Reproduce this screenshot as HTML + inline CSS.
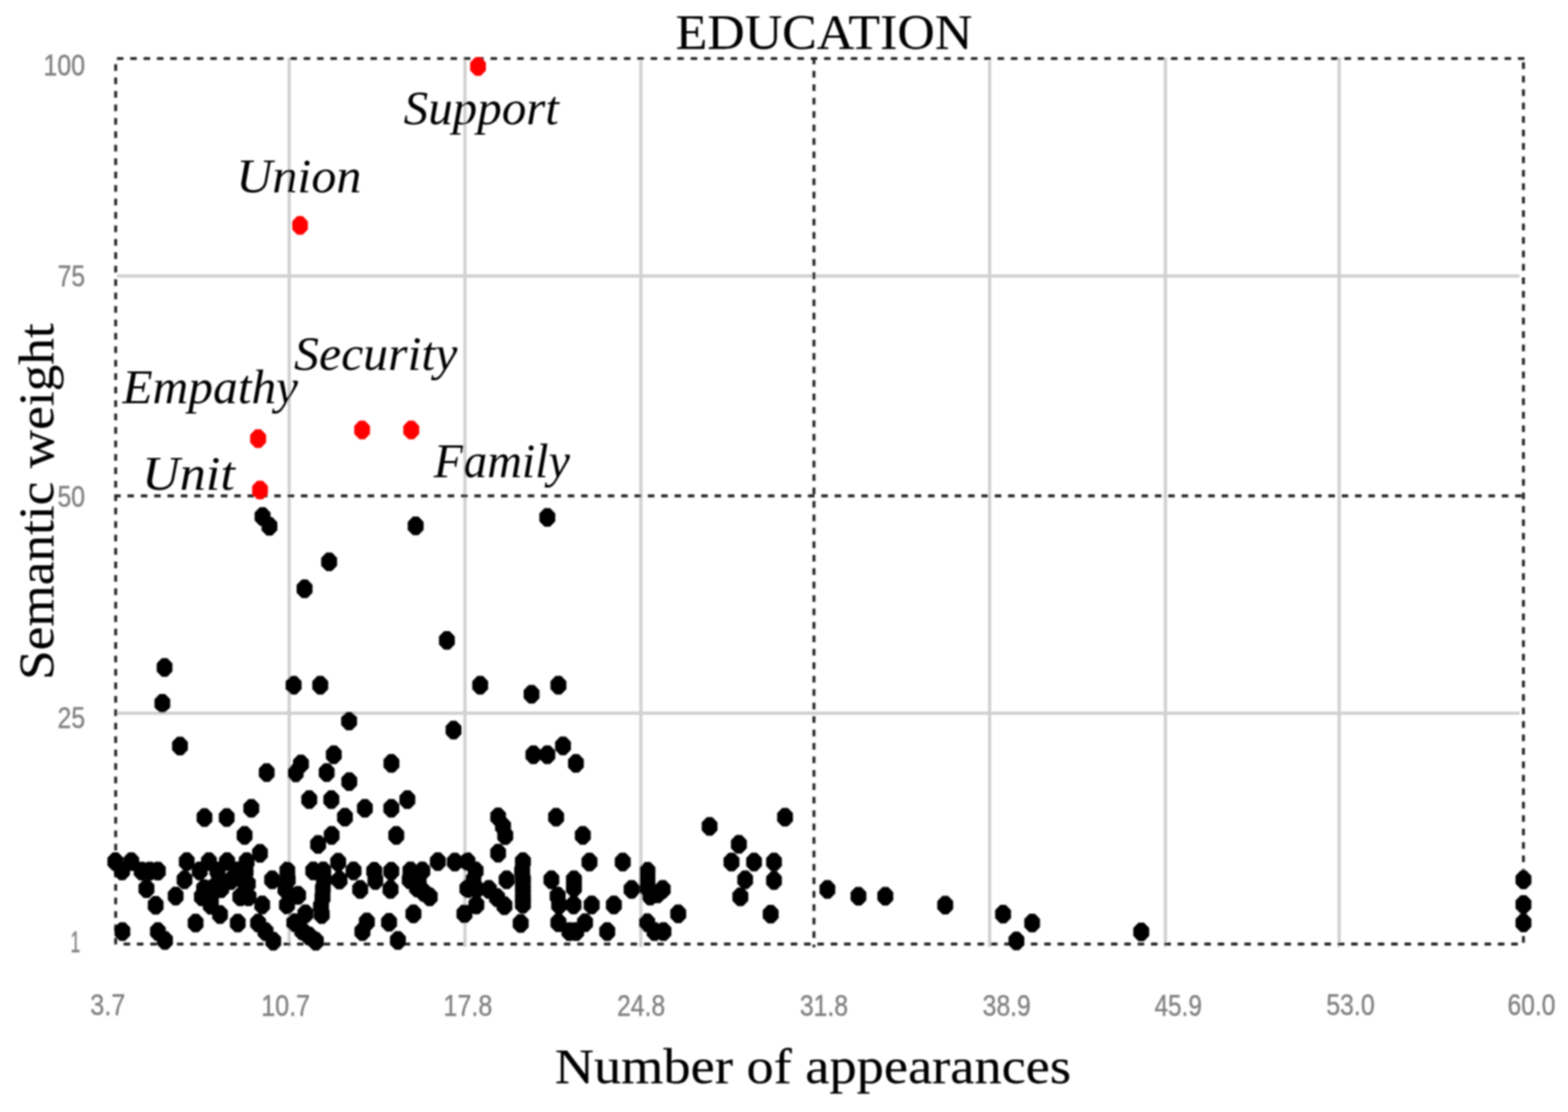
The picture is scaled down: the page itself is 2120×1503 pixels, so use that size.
<!DOCTYPE html>
<html lang="en"><head><meta charset="utf-8"><title>EDUCATION</title>
<style>
html,body{margin:0;padding:0;background:#fff;}
body{width:2120px;height:1503px;position:relative;}
svg{position:absolute;left:0;top:0;display:block;}
.serif{font-family:"Liberation Serif","DejaVu Serif",serif;fill:#000;stroke:#000;stroke-width:0.25;}
.it{font-family:"Liberation Serif","DejaVu Serif",serif;font-style:italic;fill:#000;}
.tick{font-family:"Liberation Sans","DejaVu Sans",sans-serif;fill:#808080;stroke:#808080;stroke-width:0.5;}
.g{stroke:#d0d0d0;stroke-width:4.4;fill:none;}
.d{stroke:#242424;stroke-width:3.9;fill:none;}
.k{fill:#000;stroke:#000;stroke-width:1;stroke-linejoin:round;}
.r{fill:#fe0000;stroke:#fe0000;stroke-width:1;stroke-linejoin:round;}
</style></head><body>
<svg width="2120" height="1503" viewBox="0 0 2120 1503">
<defs><filter id="b" filterUnits="userSpaceOnUse" x="0" y="0" width="2120" height="1503"><feGaussianBlur stdDeviation="1.1"/></filter><filter id="c" filterUnits="userSpaceOnUse" x="0" y="0" width="2120" height="1503"><feGaussianBlur stdDeviation="0.6"/></filter></defs>
<rect width="2120" height="1503" fill="#fff"/>
<g filter="url(#b)">
<g class="g">
<line x1="391.0" y1="78.1" x2="391.0" y2="1280.0"/>
<line x1="628.6" y1="78.1" x2="628.6" y2="1280.0"/>
<line x1="866.5" y1="78.1" x2="866.5" y2="1280.0"/>
<line x1="1338.0" y1="78.1" x2="1338.0" y2="1280.0"/>
<line x1="1575.6" y1="78.1" x2="1575.6" y2="1280.0"/>
<line x1="1810.6" y1="78.1" x2="1810.6" y2="1280.0"/>
<line x1="158.2" y1="373.0" x2="2054.5" y2="373.0"/>
<line x1="158.2" y1="964.0" x2="2054.5" y2="964.0"/>
</g>
<g class="d" filter="url(#c)">
<line x1="157.5" y1="79.1" x2="2061.0" y2="79.1" stroke-dasharray="8.80 9.24" stroke-dashoffset="17.44"/>
<line x1="160.0" y1="1276.0" x2="2055.5" y2="1276.0" stroke-dasharray="8.80 9.24" stroke-dashoffset="10.94"/>
<line x1="155.2" y1="670.3" x2="2059.5" y2="670.3" stroke-dasharray="8.80 9.24" stroke-dashoffset="0.84"/>
<line x1="156.4" y1="84.0" x2="156.4" y2="1276.5" stroke-dasharray="9.00 9.17" stroke-dashoffset="15.47"/>
<line x1="2059.7" y1="79.1" x2="2059.7" y2="1274.5" stroke-dasharray="9.00 9.17" stroke-dashoffset="12.97"/>
<line x1="1100.5" y1="77.6" x2="1100.5" y2="1280.5" stroke-dasharray="9.00 9.17" stroke-dashoffset="18.14"/>
</g>
<path class="k" d="M351.3 686.0h7.4l6.5 6.7v10.8l-6.5 6.7h-7.4l-6.5 -6.7v-10.8zM360.6 699.2h7.4l6.5 6.7v10.8l-6.5 6.7h-7.4l-6.5 -6.7v-10.8zM558.3 698.7h7.4l6.5 6.7v10.8l-6.5 6.7h-7.4l-6.5 -6.7v-10.8zM441.3 747.2h7.4l6.5 6.7v10.8l-6.5 6.7h-7.4l-6.5 -6.7v-10.8zM408.1 783.7h7.4l6.5 6.7v10.8l-6.5 6.7h-7.4l-6.5 -6.7v-10.8zM600.5 853.5h7.4l6.5 6.7v10.8l-6.5 6.7h-7.4l-6.5 -6.7v-10.8zM218.8 890.0h7.4l6.5 6.7v10.8l-6.5 6.7h-7.4l-6.5 -6.7v-10.8zM393.3 914.0h7.4l6.5 6.7v10.8l-6.5 6.7h-7.4l-6.5 -6.7v-10.8zM429.3 914.0h7.4l6.5 6.7v10.8l-6.5 6.7h-7.4l-6.5 -6.7v-10.8zM645.5 914.0h7.4l6.5 6.7v10.8l-6.5 6.7h-7.4l-6.5 -6.7v-10.8zM215.8 938.5h7.4l6.5 6.7v10.8l-6.5 6.7h-7.4l-6.5 -6.7v-10.8zM468.3 962.5h7.4l6.5 6.7v10.8l-6.5 6.7h-7.4l-6.5 -6.7v-10.8zM609.5 974.7h7.4l6.5 6.7v10.8l-6.5 6.7h-7.4l-6.5 -6.7v-10.8zM239.6 996.2h7.4l6.5 6.7v10.8l-6.5 6.7h-7.4l-6.5 -6.7v-10.8zM447.6 1008.0h7.4l6.5 6.7v10.8l-6.5 6.7h-7.4l-6.5 -6.7v-10.8zM525.5 1019.7h7.4l6.5 6.7v10.8l-6.5 6.7h-7.4l-6.5 -6.7v-10.8zM736.3 687.2h7.4l6.5 6.7v10.8l-6.5 6.7h-7.4l-6.5 -6.7v-10.8zM715.0 926.2h7.4l6.5 6.7v10.8l-6.5 6.7h-7.4l-6.5 -6.7v-10.8zM751.3 914.0h7.4l6.5 6.7v10.8l-6.5 6.7h-7.4l-6.5 -6.7v-10.8zM757.5 996.0h7.4l6.5 6.7v10.8l-6.5 6.7h-7.4l-6.5 -6.7v-10.8zM717.5 1008.0h7.4l6.5 6.7v10.8l-6.5 6.7h-7.4l-6.5 -6.7v-10.8zM736.3 1008.0h7.4l6.5 6.7v10.8l-6.5 6.7h-7.4l-6.5 -6.7v-10.8zM775.0 1019.7h7.4l6.5 6.7v10.8l-6.5 6.7h-7.4l-6.5 -6.7v-10.8zM356.9 1032.1h7.4l6.5 6.7v10.8l-6.5 6.7h-7.4l-6.5 -6.7v-10.8zM396.1 1032.6h7.4l6.5 6.7v10.8l-6.5 6.7h-7.4l-6.5 -6.7v-10.8zM403.2 1020.4h7.4l6.5 6.7v10.8l-6.5 6.7h-7.4l-6.5 -6.7v-10.8zM438.0 1032.1h7.4l6.5 6.7v10.8l-6.5 6.7h-7.4l-6.5 -6.7v-10.8zM468.5 1044.3h7.4l6.5 6.7v10.8l-6.5 6.7h-7.4l-6.5 -6.7v-10.8zM414.4 1068.7h7.4l6.5 6.7v10.8l-6.5 6.7h-7.4l-6.5 -6.7v-10.8zM444.3 1068.7h7.4l6.5 6.7v10.8l-6.5 6.7h-7.4l-6.5 -6.7v-10.8zM336.1 1080.4h7.4l6.5 6.7v10.8l-6.5 6.7h-7.4l-6.5 -6.7v-10.8zM272.8 1092.9h7.4l6.5 6.7v10.8l-6.5 6.7h-7.4l-6.5 -6.7v-10.8zM302.8 1092.9h7.4l6.5 6.7v10.8l-6.5 6.7h-7.4l-6.5 -6.7v-10.8zM462.7 1092.4h7.4l6.5 6.7v10.8l-6.5 6.7h-7.4l-6.5 -6.7v-10.8zM489.6 1080.4h7.4l6.5 6.7v10.8l-6.5 6.7h-7.4l-6.5 -6.7v-10.8zM327.0 1117.0h7.4l6.5 6.7v10.8l-6.5 6.7h-7.4l-6.5 -6.7v-10.8zM444.7 1117.0h7.4l6.5 6.7v10.8l-6.5 6.7h-7.4l-6.5 -6.7v-10.8zM426.4 1129.2h7.4l6.5 6.7v10.8l-6.5 6.7h-7.4l-6.5 -6.7v-10.8zM347.8 1141.2h7.4l6.5 6.7v10.8l-6.5 6.7h-7.4l-6.5 -6.7v-10.8zM453.5 1153.2h7.4l6.5 6.7v10.8l-6.5 6.7h-7.4l-6.5 -6.7v-10.8zM152.3 1152.5h7.4l6.5 6.7v10.8l-6.5 6.7h-7.4l-6.5 -6.7v-10.8zM173.8 1152.5h7.4l6.5 6.7v10.8l-6.5 6.7h-7.4l-6.5 -6.7v-10.8zM248.8 1152.5h7.4l6.5 6.7v10.8l-6.5 6.7h-7.4l-6.5 -6.7v-10.8zM278.8 1152.5h7.4l6.5 6.7v10.8l-6.5 6.7h-7.4l-6.5 -6.7v-10.8zM303.3 1152.5h7.4l6.5 6.7v10.8l-6.5 6.7h-7.4l-6.5 -6.7v-10.8zM329.8 1152.5h7.4l6.5 6.7v10.8l-6.5 6.7h-7.4l-6.5 -6.7v-10.8zM161.3 1165.0h7.4l6.5 6.7v10.8l-6.5 6.7h-7.4l-6.5 -6.7v-10.8zM187.8 1165.2h7.4l6.5 6.7v10.8l-6.5 6.7h-7.4l-6.5 -6.7v-10.8zM198.8 1165.2h7.4l6.5 6.7v10.8l-6.5 6.7h-7.4l-6.5 -6.7v-10.8zM209.8 1165.2h7.4l6.5 6.7v10.8l-6.5 6.7h-7.4l-6.5 -6.7v-10.8zM266.3 1165.0h7.4l6.5 6.7v10.8l-6.5 6.7h-7.4l-6.5 -6.7v-10.8zM290.3 1165.0h7.4l6.5 6.7v10.8l-6.5 6.7h-7.4l-6.5 -6.7v-10.8zM316.3 1165.0h7.4l6.5 6.7v10.8l-6.5 6.7h-7.4l-6.5 -6.7v-10.8zM245.8 1177.0h7.4l6.5 6.7v10.8l-6.5 6.7h-7.4l-6.5 -6.7v-10.8zM292.3 1177.0h7.4l6.5 6.7v10.8l-6.5 6.7h-7.4l-6.5 -6.7v-10.8zM324.3 1177.0h7.4l6.5 6.7v10.8l-6.5 6.7h-7.4l-6.5 -6.7v-10.8zM194.3 1189.0h7.4l6.5 6.7v10.8l-6.5 6.7h-7.4l-6.5 -6.7v-10.8zM272.3 1189.0h7.4l6.5 6.7v10.8l-6.5 6.7h-7.4l-6.5 -6.7v-10.8zM233.8 1199.0h7.4l6.5 6.7v10.8l-6.5 6.7h-7.4l-6.5 -6.7v-10.8zM269.3 1200.0h7.4l6.5 6.7v10.8l-6.5 6.7h-7.4l-6.5 -6.7v-10.8zM321.3 1200.0h7.4l6.5 6.7v10.8l-6.5 6.7h-7.4l-6.5 -6.7v-10.8zM332.3 1200.0h7.4l6.5 6.7v10.8l-6.5 6.7h-7.4l-6.5 -6.7v-10.8zM206.8 1211.5h7.4l6.5 6.7v10.8l-6.5 6.7h-7.4l-6.5 -6.7v-10.8zM281.3 1211.5h7.4l6.5 6.7v10.8l-6.5 6.7h-7.4l-6.5 -6.7v-10.8zM293.8 1224.0h7.4l6.5 6.7v10.8l-6.5 6.7h-7.4l-6.5 -6.7v-10.8zM260.8 1235.5h7.4l6.5 6.7v10.8l-6.5 6.7h-7.4l-6.5 -6.7v-10.8zM317.8 1235.5h7.4l6.5 6.7v10.8l-6.5 6.7h-7.4l-6.5 -6.7v-10.8zM345.3 1235.5h7.4l6.5 6.7v10.8l-6.5 6.7h-7.4l-6.5 -6.7v-10.8zM161.8 1247.0h7.4l6.5 6.7v10.8l-6.5 6.7h-7.4l-6.5 -6.7v-10.8zM209.8 1247.0h7.4l6.5 6.7v10.8l-6.5 6.7h-7.4l-6.5 -6.7v-10.8zM219.3 1259.0h7.4l6.5 6.7v10.8l-6.5 6.7h-7.4l-6.5 -6.7v-10.8zM283.3 1189.0h7.4l6.5 6.7v10.8l-6.5 6.7h-7.4l-6.5 -6.7v-10.8zM295.3 1189.0h7.4l6.5 6.7v10.8l-6.5 6.7h-7.4l-6.5 -6.7v-10.8zM308.3 1178.0h7.4l6.5 6.7v10.8l-6.5 6.7h-7.4l-6.5 -6.7v-10.8zM281.3 1201.0h7.4l6.5 6.7v10.8l-6.5 6.7h-7.4l-6.5 -6.7v-10.8zM384.8 1165.0h7.4l6.5 6.7v10.8l-6.5 6.7h-7.4l-6.5 -6.7v-10.8zM419.8 1165.0h7.4l6.5 6.7v10.8l-6.5 6.7h-7.4l-6.5 -6.7v-10.8zM433.3 1165.0h7.4l6.5 6.7v10.8l-6.5 6.7h-7.4l-6.5 -6.7v-10.8zM474.3 1165.0h7.4l6.5 6.7v10.8l-6.5 6.7h-7.4l-6.5 -6.7v-10.8zM502.3 1165.5h7.4l6.5 6.7v10.8l-6.5 6.7h-7.4l-6.5 -6.7v-10.8zM525.3 1165.5h7.4l6.5 6.7v10.8l-6.5 6.7h-7.4l-6.5 -6.7v-10.8zM364.3 1177.0h7.4l6.5 6.7v10.8l-6.5 6.7h-7.4l-6.5 -6.7v-10.8zM385.3 1177.0h7.4l6.5 6.7v10.8l-6.5 6.7h-7.4l-6.5 -6.7v-10.8zM434.3 1177.0h7.4l6.5 6.7v10.8l-6.5 6.7h-7.4l-6.5 -6.7v-10.8zM455.3 1177.5h7.4l6.5 6.7v10.8l-6.5 6.7h-7.4l-6.5 -6.7v-10.8zM503.8 1178.0h7.4l6.5 6.7v10.8l-6.5 6.7h-7.4l-6.5 -6.7v-10.8zM382.3 1190.0h7.4l6.5 6.7v10.8l-6.5 6.7h-7.4l-6.5 -6.7v-10.8zM432.8 1189.0h7.4l6.5 6.7v10.8l-6.5 6.7h-7.4l-6.5 -6.7v-10.8zM483.3 1190.0h7.4l6.5 6.7v10.8l-6.5 6.7h-7.4l-6.5 -6.7v-10.8zM524.3 1190.0h7.4l6.5 6.7v10.8l-6.5 6.7h-7.4l-6.5 -6.7v-10.8zM399.3 1198.0h7.4l6.5 6.7v10.8l-6.5 6.7h-7.4l-6.5 -6.7v-10.8zM432.3 1201.0h7.4l6.5 6.7v10.8l-6.5 6.7h-7.4l-6.5 -6.7v-10.8zM350.8 1211.0h7.4l6.5 6.7v10.8l-6.5 6.7h-7.4l-6.5 -6.7v-10.8zM384.3 1211.0h7.4l6.5 6.7v10.8l-6.5 6.7h-7.4l-6.5 -6.7v-10.8zM430.3 1213.0h7.4l6.5 6.7v10.8l-6.5 6.7h-7.4l-6.5 -6.7v-10.8zM409.3 1223.0h7.4l6.5 6.7v10.8l-6.5 6.7h-7.4l-6.5 -6.7v-10.8zM431.3 1224.0h7.4l6.5 6.7v10.8l-6.5 6.7h-7.4l-6.5 -6.7v-10.8zM394.3 1235.0h7.4l6.5 6.7v10.8l-6.5 6.7h-7.4l-6.5 -6.7v-10.8zM492.3 1234.0h7.4l6.5 6.7v10.8l-6.5 6.7h-7.4l-6.5 -6.7v-10.8zM522.3 1234.5h7.4l6.5 6.7v10.8l-6.5 6.7h-7.4l-6.5 -6.7v-10.8zM355.3 1247.0h7.4l6.5 6.7v10.8l-6.5 6.7h-7.4l-6.5 -6.7v-10.8zM404.8 1246.0h7.4l6.5 6.7v10.8l-6.5 6.7h-7.4l-6.5 -6.7v-10.8zM486.3 1247.0h7.4l6.5 6.7v10.8l-6.5 6.7h-7.4l-6.5 -6.7v-10.8zM414.3 1253.0h7.4l6.5 6.7v10.8l-6.5 6.7h-7.4l-6.5 -6.7v-10.8zM365.8 1260.0h7.4l6.5 6.7v10.8l-6.5 6.7h-7.4l-6.5 -6.7v-10.8zM423.3 1260.0h7.4l6.5 6.7v10.8l-6.5 6.7h-7.4l-6.5 -6.7v-10.8zM534.3 1259.0h7.4l6.5 6.7v10.8l-6.5 6.7h-7.4l-6.5 -6.7v-10.8zM669.8 1141.0h7.4l6.5 6.7v10.8l-6.5 6.7h-7.4l-6.5 -6.7v-10.8zM588.3 1152.5h7.4l6.5 6.7v10.8l-6.5 6.7h-7.4l-6.5 -6.7v-10.8zM611.3 1153.0h7.4l6.5 6.7v10.8l-6.5 6.7h-7.4l-6.5 -6.7v-10.8zM628.3 1152.5h7.4l6.5 6.7v10.8l-6.5 6.7h-7.4l-6.5 -6.7v-10.8zM703.3 1152.5h7.4l6.5 6.7v10.8l-6.5 6.7h-7.4l-6.5 -6.7v-10.8zM551.3 1165.0h7.4l6.5 6.7v10.8l-6.5 6.7h-7.4l-6.5 -6.7v-10.8zM567.3 1165.0h7.4l6.5 6.7v10.8l-6.5 6.7h-7.4l-6.5 -6.7v-10.8zM639.3 1165.0h7.4l6.5 6.7v10.8l-6.5 6.7h-7.4l-6.5 -6.7v-10.8zM702.3 1165.0h7.4l6.5 6.7v10.8l-6.5 6.7h-7.4l-6.5 -6.7v-10.8zM550.3 1177.0h7.4l6.5 6.7v10.8l-6.5 6.7h-7.4l-6.5 -6.7v-10.8zM636.3 1177.0h7.4l6.5 6.7v10.8l-6.5 6.7h-7.4l-6.5 -6.7v-10.8zM681.3 1177.0h7.4l6.5 6.7v10.8l-6.5 6.7h-7.4l-6.5 -6.7v-10.8zM703.3 1177.0h7.4l6.5 6.7v10.8l-6.5 6.7h-7.4l-6.5 -6.7v-10.8zM560.3 1188.0h7.4l6.5 6.7v10.8l-6.5 6.7h-7.4l-6.5 -6.7v-10.8zM628.3 1189.0h7.4l6.5 6.7v10.8l-6.5 6.7h-7.4l-6.5 -6.7v-10.8zM657.3 1190.0h7.4l6.5 6.7v10.8l-6.5 6.7h-7.4l-6.5 -6.7v-10.8zM703.3 1189.0h7.4l6.5 6.7v10.8l-6.5 6.7h-7.4l-6.5 -6.7v-10.8zM577.3 1200.0h7.4l6.5 6.7v10.8l-6.5 6.7h-7.4l-6.5 -6.7v-10.8zM668.3 1201.0h7.4l6.5 6.7v10.8l-6.5 6.7h-7.4l-6.5 -6.7v-10.8zM703.3 1201.0h7.4l6.5 6.7v10.8l-6.5 6.7h-7.4l-6.5 -6.7v-10.8zM640.3 1211.0h7.4l6.5 6.7v10.8l-6.5 6.7h-7.4l-6.5 -6.7v-10.8zM678.3 1212.0h7.4l6.5 6.7v10.8l-6.5 6.7h-7.4l-6.5 -6.7v-10.8zM703.3 1210.0h7.4l6.5 6.7v10.8l-6.5 6.7h-7.4l-6.5 -6.7v-10.8zM555.3 1223.0h7.4l6.5 6.7v10.8l-6.5 6.7h-7.4l-6.5 -6.7v-10.8zM624.3 1223.0h7.4l6.5 6.7v10.8l-6.5 6.7h-7.4l-6.5 -6.7v-10.8zM700.3 1236.0h7.4l6.5 6.7v10.8l-6.5 6.7h-7.4l-6.5 -6.7v-10.8zM793.3 1153.0h7.4l6.5 6.7v10.8l-6.5 6.7h-7.4l-6.5 -6.7v-10.8zM838.3 1153.0h7.4l6.5 6.7v10.8l-6.5 6.7h-7.4l-6.5 -6.7v-10.8zM871.8 1165.5h7.4l6.5 6.7v10.8l-6.5 6.7h-7.4l-6.5 -6.7v-10.8zM741.8 1177.0h7.4l6.5 6.7v10.8l-6.5 6.7h-7.4l-6.5 -6.7v-10.8zM772.3 1177.0h7.4l6.5 6.7v10.8l-6.5 6.7h-7.4l-6.5 -6.7v-10.8zM871.8 1177.0h7.4l6.5 6.7v10.8l-6.5 6.7h-7.4l-6.5 -6.7v-10.8zM772.3 1188.0h7.4l6.5 6.7v10.8l-6.5 6.7h-7.4l-6.5 -6.7v-10.8zM850.3 1190.0h7.4l6.5 6.7v10.8l-6.5 6.7h-7.4l-6.5 -6.7v-10.8zM871.8 1189.0h7.4l6.5 6.7v10.8l-6.5 6.7h-7.4l-6.5 -6.7v-10.8zM892.3 1190.0h7.4l6.5 6.7v10.8l-6.5 6.7h-7.4l-6.5 -6.7v-10.8zM750.3 1199.0h7.4l6.5 6.7v10.8l-6.5 6.7h-7.4l-6.5 -6.7v-10.8zM875.3 1199.0h7.4l6.5 6.7v10.8l-6.5 6.7h-7.4l-6.5 -6.7v-10.8zM885.3 1196.0h7.4l6.5 6.7v10.8l-6.5 6.7h-7.4l-6.5 -6.7v-10.8zM752.3 1211.0h7.4l6.5 6.7v10.8l-6.5 6.7h-7.4l-6.5 -6.7v-10.8zM771.8 1211.0h7.4l6.5 6.7v10.8l-6.5 6.7h-7.4l-6.5 -6.7v-10.8zM796.3 1211.0h7.4l6.5 6.7v10.8l-6.5 6.7h-7.4l-6.5 -6.7v-10.8zM826.3 1211.0h7.4l6.5 6.7v10.8l-6.5 6.7h-7.4l-6.5 -6.7v-10.8zM751.3 1235.0h7.4l6.5 6.7v10.8l-6.5 6.7h-7.4l-6.5 -6.7v-10.8zM787.3 1235.0h7.4l6.5 6.7v10.8l-6.5 6.7h-7.4l-6.5 -6.7v-10.8zM871.3 1235.0h7.4l6.5 6.7v10.8l-6.5 6.7h-7.4l-6.5 -6.7v-10.8zM766.3 1247.0h7.4l6.5 6.7v10.8l-6.5 6.7h-7.4l-6.5 -6.7v-10.8zM775.3 1247.0h7.4l6.5 6.7v10.8l-6.5 6.7h-7.4l-6.5 -6.7v-10.8zM817.3 1247.0h7.4l6.5 6.7v10.8l-6.5 6.7h-7.4l-6.5 -6.7v-10.8zM881.3 1247.0h7.4l6.5 6.7v10.8l-6.5 6.7h-7.4l-6.5 -6.7v-10.8zM893.3 1247.0h7.4l6.5 6.7v10.8l-6.5 6.7h-7.4l-6.5 -6.7v-10.8zM995.3 1129.0h7.4l6.5 6.7v10.8l-6.5 6.7h-7.4l-6.5 -6.7v-10.8zM985.3 1153.0h7.4l6.5 6.7v10.8l-6.5 6.7h-7.4l-6.5 -6.7v-10.8zM1015.8 1153.0h7.4l6.5 6.7v10.8l-6.5 6.7h-7.4l-6.5 -6.7v-10.8zM1042.8 1153.0h7.4l6.5 6.7v10.8l-6.5 6.7h-7.4l-6.5 -6.7v-10.8zM1003.8 1177.0h7.4l6.5 6.7v10.8l-6.5 6.7h-7.4l-6.5 -6.7v-10.8zM1042.8 1178.0h7.4l6.5 6.7v10.8l-6.5 6.7h-7.4l-6.5 -6.7v-10.8zM997.3 1200.0h7.4l6.5 6.7v10.8l-6.5 6.7h-7.4l-6.5 -6.7v-10.8zM913.3 1223.0h7.4l6.5 6.7v10.8l-6.5 6.7h-7.4l-6.5 -6.7v-10.8zM1038.3 1223.5h7.4l6.5 6.7v10.8l-6.5 6.7h-7.4l-6.5 -6.7v-10.8zM547.1 1068.7h7.4l6.5 6.7v10.8l-6.5 6.7h-7.4l-6.5 -6.7v-10.8zM525.4 1080.4h7.4l6.5 6.7v10.8l-6.5 6.7h-7.4l-6.5 -6.7v-10.8zM532.1 1117.0h7.4l6.5 6.7v10.8l-6.5 6.7h-7.4l-6.5 -6.7v-10.8zM669.8 1092.0h7.4l6.5 6.7v10.8l-6.5 6.7h-7.4l-6.5 -6.7v-10.8zM676.4 1104.9h7.4l6.5 6.7v10.8l-6.5 6.7h-7.4l-6.5 -6.7v-10.8zM679.4 1117.4h7.4l6.5 6.7v10.8l-6.5 6.7h-7.4l-6.5 -6.7v-10.8zM748.2 1092.4h7.4l6.5 6.7v10.8l-6.5 6.7h-7.4l-6.5 -6.7v-10.8zM784.3 1117.0h7.4l6.5 6.7v10.8l-6.5 6.7h-7.4l-6.5 -6.7v-10.8zM955.7 1104.9h7.4l6.5 6.7v10.8l-6.5 6.7h-7.4l-6.5 -6.7v-10.8zM1057.7 1092.4h7.4l6.5 6.7v10.8l-6.5 6.7h-7.4l-6.5 -6.7v-10.8zM1115.0 1190.0h7.4l6.5 6.7v10.8l-6.5 6.7h-7.4l-6.5 -6.7v-10.8zM1157.0 1199.2h7.4l6.5 6.7v10.8l-6.5 6.7h-7.4l-6.5 -6.7v-10.8zM1193.3 1199.2h7.4l6.5 6.7v10.8l-6.5 6.7h-7.4l-6.5 -6.7v-10.8zM1274.3 1211.2h7.4l6.5 6.7v10.8l-6.5 6.7h-7.4l-6.5 -6.7v-10.8zM1352.5 1223.5h7.4l6.5 6.7v10.8l-6.5 6.7h-7.4l-6.5 -6.7v-10.8zM1391.8 1235.5h7.4l6.5 6.7v10.8l-6.5 6.7h-7.4l-6.5 -6.7v-10.8zM1370.5 1259.7h7.4l6.5 6.7v10.8l-6.5 6.7h-7.4l-6.5 -6.7v-10.8zM1539.3 1247.5h7.4l6.5 6.7v10.8l-6.5 6.7h-7.4l-6.5 -6.7v-10.8zM2056.1 1177.0h7.4l6.5 6.7v10.8l-6.5 6.7h-7.4l-6.5 -6.7v-10.8zM2056.1 1210.4h7.4l6.5 6.7v10.8l-6.5 6.7h-7.4l-6.5 -6.7v-10.8zM2056.1 1235.3h7.4l6.5 6.7v10.8l-6.5 6.7h-7.4l-6.5 -6.7v-10.8zM328.3 1166.0h7.4l6.5 6.7v10.8l-6.5 6.7h-7.4l-6.5 -6.7v-10.8zM640.8 1189.5h7.4l6.5 6.7v10.8l-6.5 6.7h-7.4l-6.5 -6.7v-10.8zM569.3 1194.0h7.4l6.5 6.7v10.8l-6.5 6.7h-7.4l-6.5 -6.7v-10.8zM562.3 1177.0h7.4l6.5 6.7v10.8l-6.5 6.7h-7.4l-6.5 -6.7v-10.8zM331.3 1182.5h7.4l6.5 6.7v10.8l-6.5 6.7h-7.4l-6.5 -6.7v-10.8z"/>
<path class="r" d="M642.6 77.8h7.4l6.5 6.7v10.8l-6.5 6.7h-7.4l-6.5 -6.7v-10.8zM401.9 292.6h7.4l6.5 6.7v10.8l-6.5 6.7h-7.4l-6.5 -6.7v-10.8zM345.3 580.8h7.4l6.5 6.7v10.8l-6.5 6.7h-7.4l-6.5 -6.7v-10.8zM485.9 569.0h7.4l6.5 6.7v10.8l-6.5 6.7h-7.4l-6.5 -6.7v-10.8zM552.3 569.0h7.4l6.5 6.7v10.8l-6.5 6.7h-7.4l-6.5 -6.7v-10.8zM347.9 650.2h7.4l6.5 6.7v10.8l-6.5 6.7h-7.4l-6.5 -6.7v-10.8z"/>
<g class="tick" font-size="41">
<text x="122.0" y="1371.9" textLength="47.5" lengthAdjust="spacingAndGlyphs">3.7</text>
<text x="353.2" y="1372.5" textLength="66.0" lengthAdjust="spacingAndGlyphs">10.7</text>
<text x="599.5" y="1372.5" textLength="66.1" lengthAdjust="spacingAndGlyphs">17.8</text>
<text x="834.2" y="1372.5" textLength="65.3" lengthAdjust="spacingAndGlyphs">24.8</text>
<text x="1081.5" y="1372.5" textLength="65.1" lengthAdjust="spacingAndGlyphs">31.8</text>
<text x="1328.5" y="1372.6" textLength="65.2" lengthAdjust="spacingAndGlyphs">38.9</text>
<text x="1561.0" y="1372.6" textLength="64.0" lengthAdjust="spacingAndGlyphs">45.9</text>
<text x="1793.2" y="1371.9" textLength="65.4" lengthAdjust="spacingAndGlyphs">53.0</text>
<text x="2038.3" y="1371.8" textLength="64.6" lengthAdjust="spacingAndGlyphs">60.0</text>
<text x="58.7" y="101.7" textLength="56.2" lengthAdjust="spacingAndGlyphs">100</text>
<text x="78.0" y="387.1" textLength="37.1" lengthAdjust="spacingAndGlyphs">75</text>
<text x="77.7" y="684.7" textLength="37.3" lengthAdjust="spacingAndGlyphs">50</text>
<text x="77.8" y="983.7" textLength="37.3" lengthAdjust="spacingAndGlyphs">25</text>
<text x="95.3" y="1286.9" textLength="13.2" lengthAdjust="spacingAndGlyphs">1</text>
</g>
<text class="serif" x="913.5" y="65.9" font-size="67.2" textLength="401" lengthAdjust="spacingAndGlyphs">EDUCATION</text>
<text class="serif" x="750" y="1464" font-size="68.5" textLength="698" lengthAdjust="spacingAndGlyphs">Number of appearances</text>
<text class="serif" transform="translate(72 919) rotate(-90)" font-size="68.5" textLength="482" lengthAdjust="spacingAndGlyphs">Semantic weight</text>
<g class="it" font-size="66">
<text x="545.8" y="167.7" textLength="210.0" lengthAdjust="spacingAndGlyphs">Support</text>
<text x="319.5" y="260.0" textLength="169.0" lengthAdjust="spacingAndGlyphs">Union</text>
<text x="397.5" y="500.0" textLength="221.0" lengthAdjust="spacingAndGlyphs">Security</text>
<text x="165.5" y="544.5" textLength="237.5" lengthAdjust="spacingAndGlyphs">Empathy</text>
<text x="192.0" y="662.0" textLength="125.5" lengthAdjust="spacingAndGlyphs">Unit</text>
<text x="586.5" y="644.5" textLength="184.0" lengthAdjust="spacingAndGlyphs">Family</text>
</g>
</g>
</svg>
</body></html>
